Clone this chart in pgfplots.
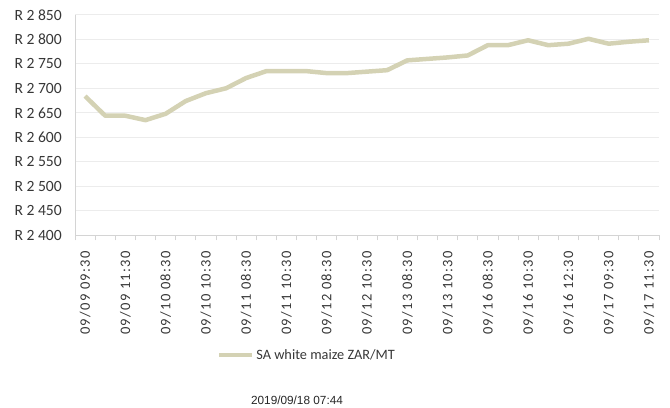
\documentclass[border=0pt]{standalone}
\usepackage{fontspec}
\setmainfont{Carlito}
\newfontfamily\xlabfont[LetterSpace=9]{Carlito}
\newfontfamily\stampfont{Liberation Sans}
\usepackage{pgfplots}
\pgfplotsset{compat=1.18}

\definecolor{maize}{RGB}{212,210,180}
\definecolor{gridc}{RGB}{236,236,236}
\definecolor{txt}{RGB}{55,55,55}

\begin{document}
\begin{tikzpicture}
\path[use as bounding box] (0,0) rectangle (670bp,408bp);
\begin{axis}[
  at={(75bp,172.7bp)}, anchor=south west,
  scale only axis, width=584bp, height=220.5bp,
  xmin=-0.5, xmax=28.5, ymin=2400, ymax=2850,
  axis lines*=left,
  axis line style={draw=gridc!90!black, line width=0.8bp},
  ytick={2400,2450,...,2850},
  yticklabels={R 2 400,R 2 450,R 2 500,R 2 550,R 2 600,R 2 650,R 2 700,R 2 750,R 2 800,R 2 850},
  ymajorgrids, major grid style={draw=gridc, line width=1bp},
  xtick={0,2,...,28},
  xticklabels={09/09 09:30,09/09 11:30,09/10 08:30,09/10 10:30,09/11 08:30,09/11 10:30,09/12 08:30,09/12 10:30,09/13 08:30,09/13 10:30,09/16 08:30,09/16 10:30,09/16 12:30,09/17 09:30,09/17 11:30},
  minor xtick={-0.5,0.5,...,28.5},
  major tick length=0pt, minor tick length=5bp, tick align=outside,
  minor tick style={draw=gridc!90!black, line width=0.8bp},
  yticklabel style={font=\fontsize{15.6bp}{17bp}\selectfont, text=txt, anchor=east, inner sep=0pt, xshift=-13bp},
  xticklabel style={font=\xlabfont\fontsize{14.5bp}{16bp}\selectfont, text=txt, rotate=90, anchor=east, inner sep=0pt, xshift=-16bp},
  legend style={at={(0.397,-0.543)}, anchor=center, draw=none, fill=none,
    font=\fontsize{14.3bp}{16bp}\selectfont, text=txt, inner sep=0pt},
  legend image code/.code={\draw[#1, line width=4.5bp] (0bp,0bp) -- (33bp,0bp);},
]
\addplot[maize, line width=4.5bp, line join=round] coordinates {
  (0,2684) (1,2644) (2,2644) (3,2635) (4,2648) (5,2674) (6,2690) (7,2700)
  (8,2721) (9,2735) (10,2735) (11,2735) (12,2731) (13,2731) (14,2734)
  (15,2737) (16,2757) (17,2760) (18,2763) (19,2767) (20,2788) (21,2788)
  (22,2798) (23,2788) (24,2791) (25,2801) (26,2791) (27,2795) (28,2798)
};
\addlegendentry{SA white maize ZAR/MT}
\end{axis}
\node[font=\stampfont\fontsize{11.8bp}{14bp}\selectfont, text=black!85] at (297bp,8bp) {2019/09/18 07:44};
\end{tikzpicture}
\end{document}
